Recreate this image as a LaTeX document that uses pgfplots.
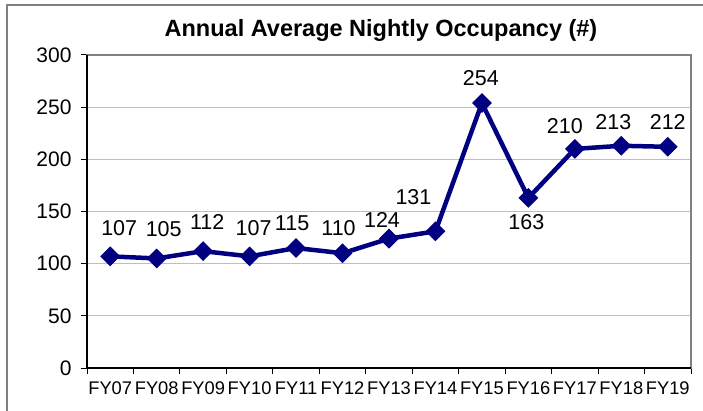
\documentclass[border=0pt]{standalone}
\usepackage{pgfplots}
\pgfplotsset{compat=1.18}
\usepackage{pgfplotstable}
\usepackage{fontspec}
\setmainfont{Liberation Sans}
\definecolor{navyline}{RGB}{0,0,128}
\definecolor{framegray}{RGB}{128,128,128}
\definecolor{gridgray}{RGB}{190,190,190}
\pgfplotstableread{
x y dx dy
0 107 9 28
1 105 7 29
2 112 4 29
3 107 4 28
4 115 -4 25
5 110 -4 25
6 124 -7 19
7 131 -22 34
8 254 -1 25
9 163 -2 -24
10 210 -10 23
11 213 -8 24
12 212 0 25
}\datatable
\begin{document}
\begin{tikzpicture}
\useasboundingbox (0,0) rectangle (703bp,411bp);
\draw[framegray, line width=1.6bp] (7bp,-5bp) -- (7bp,406bp) -- (710bp,406bp);
\node[anchor=base, font=\fontsize{23.5bp}{27bp}\selectfont\bfseries] at (381bp,374bp) {Annual Average Nightly Occupancy (\#)};
\begin{axis}[
  scale only axis, width=604bp, height=313bp,
  anchor=south west, at={(87bp,43bp)},
  xmin=-0.5, xmax=12.5, ymin=0, ymax=300,
  ytick={0,50,...,300},
  xtick={-0.5,0.5,...,12.5},
  x tick label as interval,
  xticklabels={FY07,FY08,FY09,FY10,FY11,FY12,FY13,FY14,FY15,FY16,FY17,FY18,FY19},
  tick align=outside, major tick length=6bp,
  xtick pos=bottom, ytick pos=left,
  ymajorgrids, grid style={color=gridgray, line width=1.3bp},
  axis line style={color=framegray, line width=1.6bp},
  tick style={black, line width=1bp},
  xticklabel style={font=\fontsize{18.3bp}{22bp}\selectfont, yshift=-4.5bp},
  yticklabel style={font=\fontsize{21bp}{24bp}\selectfont, xshift=-6bp},
  /pgf/number format/assume math mode=true,
  clip=false,
]
\addplot[color=navyline, line width=4.5bp, mark=square*, mark size=6.5bp,
  mark options={rotate=45, line width=1bp, fill=navyline},
  visualization depends on={\thisrow{dx}\as\dx},
  visualization depends on={\thisrow{dy}\as\dy},
  nodes near coords={\pgfmathprintnumber{\pgfplotspointmeta}},
  point meta=y,
  nodes near coords style={anchor=center, inner sep=0pt, xshift=\dx bp, yshift=\dy bp, text=black, font=\fontsize{21.5bp}{25bp}\selectfont, /pgf/number format/assume math mode=true},
] table[x=x, y=y] {\datatable};
\draw[black, line width=1.6bp] (rel axis cs:0,1) -- (rel axis cs:0,0) -- (rel axis cs:1,0);
\end{axis}
\end{tikzpicture}
\end{document}
